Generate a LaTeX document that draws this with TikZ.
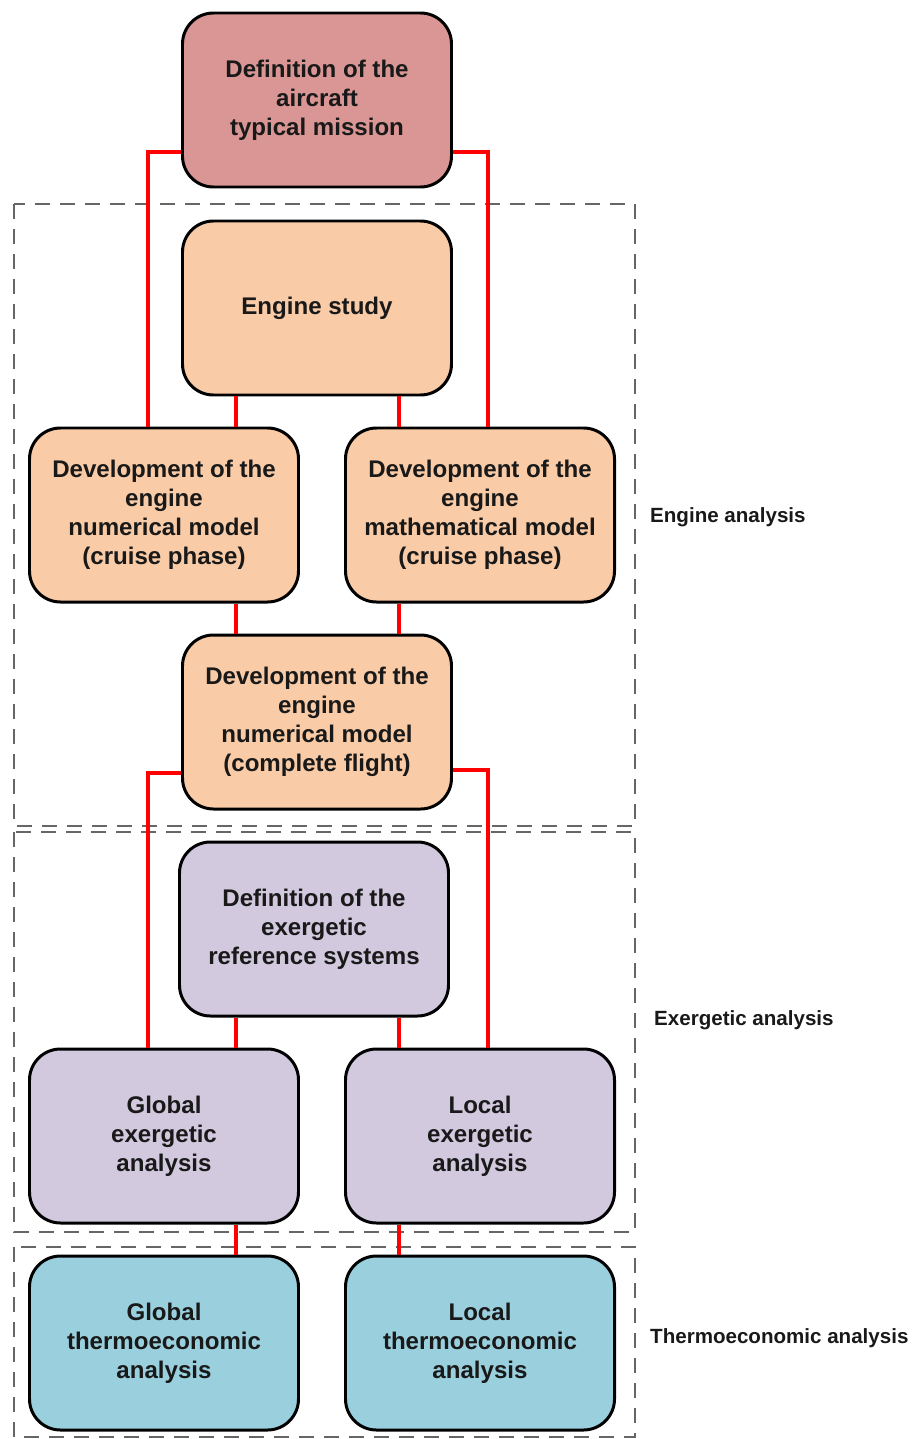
\documentclass[tikz,border=0pt]{standalone}
\usepackage{fontspec}
\setmainfont{Liberation Sans}
\usepackage{tikz}
\usetikzlibrary{shapes,arrows.meta,positioning}
\usetikzlibrary{calc}
\definecolor{pinkfill}{HTML}{D99694}
\definecolor{peachfill}{HTML}{F9CBA6}
\definecolor{lilacfill}{HTML}{D2C9DF}
\definecolor{cyanfill}{HTML}{9AD0DE}
\newcommand{\boxfont}{\fontsize{13.7}{16.6}\selectfont\bfseries}
\newcommand{\sidefont}{\fontsize{11.7}{14}\selectfont\bfseries}

\begin{document}
\begin{tikzpicture}
  [
    Box/.style={rectangle, rounded corners=0.62cm, draw=black, line width=1.7pt, minimum width=5.38cm, minimum height=3.48cm, align=center, font=\boxfont, text=black!90},
    Pink/.style={Box, fill=pinkfill},
    Peach/.style={Box, fill=peachfill},
    Lilac/.style={Box, fill=lilacfill},
    Cyan/.style={Box, fill=cyanfill},
    Frame/.style={draw=black!60, line width=0.85pt, dash pattern=on 0.3cm off 0.2cm},
    Wire/.style={draw=red, line width=2.4pt},
    Side/.style={anchor=west, font=\sidefont, text=black!90}
  ]
  \useasboundingbox (0,0) rectangle (18.36,-28.78);
  % Frames
  \path [Frame] (0.28,-4.08) rectangle (12.70,-16.52);
  \path [Frame] (0.28,-16.64) rectangle (12.70,-24.64);
  \path [Frame] (0.28,-24.94) rectangle (12.70,-28.74);
  % Nodes
  \node[Pink] (mission) at(6.34, -2.00) {Definition of the\\aircraft\\typical mission};
  \node[Peach] (study) at(6.34, -6.16) {Engine study};
  \node[Peach] (numcruise) at(3.28, -10.30) {Development of the\\engine\\numerical model\\(cruise phase)};
  \node[Peach] (mathcruise) at(9.60, -10.30) {Development of the\\engine\\mathematical model\\(cruise phase)};
  \node[Peach] (numflight) at(6.34, -14.44) {Development of the\\engine\\numerical model\\(complete flight)};
  \node[Lilac] (refsys) at(6.28, -18.58) {Definition of the\\exergetic\\reference systems};
  \node[Lilac] (globex) at(3.28, -22.72) {Global\\exergetic\\analysis};
  \node[Lilac] (locex) at(9.60, -22.72) {Local\\exergetic\\analysis};
  \node[Cyan] (globth) at(3.28, -26.86) {Global\\thermoeconomic\\analysis};
  \node[Cyan] (locth) at(9.60, -26.86) {Local\\thermoeconomic\\analysis};
  % Side labels
  \node[Side] (engine) at(12.88, -10.34) {Engine analysis};
  \node[Side] (exergy) at(12.96, -20.40) {Exergetic analysis};
  \node[Side] (thermo) at(12.88, -26.76) {Thermoeconomic analysis};
  % Lines
  \path [Wire] ([yshift=-1.04cm]mission.west) -| ([xshift=-0.32cm]numcruise.north);
  \path [Wire] ([yshift=-1.04cm]mission.east) -| ([xshift=0.16cm]mathcruise.north);
  \path [Wire] (study.south -| 4.72,0) -- (numcruise.north -| 4.72,0);
  \path [Wire] (study.south -| 7.98,0) -- (mathcruise.north -| 7.98,0);
  \path [Wire] (numcruise.south -| 4.72,0) -- (numflight.north -| 4.72,0);
  \path [Wire] (mathcruise.south -| 7.98,0) -- (numflight.north -| 7.98,0);
  \path [Wire] ([yshift=-1.02cm]numflight.west) -| ([xshift=-0.32cm]globex.north);
  \path [Wire] ([yshift=-0.96cm]numflight.east) -| ([xshift=0.16cm]locex.north);
  \path [Wire] (refsys.south -| 4.72,0) -- (globex.north -| 4.72,0);
  \path [Wire] (refsys.south -| 7.98,0) -- (locex.north -| 7.98,0);
  \path [Wire] (globex.south -| 4.72,0) -- (globth.north -| 4.72,0);
  \path [Wire] (locex.south -| 7.98,0) -- (locth.north -| 7.98,0);
\end{tikzpicture}
\end{document}
